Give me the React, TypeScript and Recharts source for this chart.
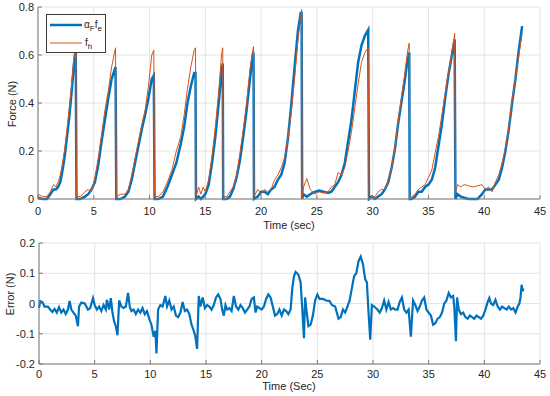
import { LineChart, Line, XAxis, YAxis, CartesianGrid, Legend } from 'recharts';

const BLUE = '#0072bd';
const ORANGE = '#d95319';
const AXIS_COLOR = '#7a7a7a';
const TEXT_COLOR = '#262626';
const GRID_COLOR = '#e4e4e4';
const FONT = 'Arial, "Liberation Sans", Helvetica, sans-serif';

const timeTicks = [0, 5, 10, 15, 20, 25, 30, 35, 40, 45];
const forceTicks = [0, 0.2, 0.4, 0.6, 0.8];
const errorTicks = [-0.2, -0.1, 0, 0.1, 0.2];

// top plot: time (s), scaled device force (alpha_F f_e), human force (f_h)
const forceTime = [
  0, 0.4, 0.8, 1.1, 1.4, 1.6, 1.8, 2.0, 2.2, 2.4, 2.6, 2.8, 3.0, 3.2, 3.38, 3.45,
  3.8, 4.2, 4.5, 4.8, 5.1, 5.4, 5.7, 6.0, 6.3, 6.6, 6.95, 7.02,
  7.4, 7.8, 8.1, 8.4, 8.7, 9.0, 9.3, 9.6, 9.9, 10.2, 10.38, 10.45,
  10.8, 11.2, 11.6, 12.0, 12.4, 12.8, 13.1, 13.4, 13.7, 14.0, 14.12, 14.16,
  14.4, 14.6, 14.8, 15.0, 15.3, 15.6, 15.9, 16.2, 16.45, 16.56, 16.6,
  16.9, 17.2, 17.5, 17.8, 18.1, 18.4, 18.7, 19.0, 19.25, 19.32, 19.36,
  19.7, 20.0, 20.3, 20.6, 20.9, 21.2, 21.5, 21.8, 22.1, 22.4, 22.7, 23.0, 23.3, 23.55, 23.63, 23.68,
  23.8, 24.1, 24.4, 24.8, 25.2, 25.6, 26.0, 26.3, 26.6, 26.9, 27.2, 27.5, 27.8, 28.1, 28.4, 28.7, 29.0, 29.3, 29.6, 29.67,
  29.9, 30.2, 30.5, 30.8, 31.1, 31.4, 31.7, 32.0, 32.3, 32.6, 32.9, 33.15, 33.28, 33.32,
  33.5, 33.8, 34.1, 34.4, 34.7, 35.0, 35.3, 35.6, 35.9, 36.2, 36.5, 36.8, 37.1, 37.35, 37.42,
  37.6, 37.9, 38.2, 38.6, 39.0, 39.4, 39.8, 40.1, 40.4, 40.7, 41.0, 41.3, 41.6, 41.9, 42.2, 42.5, 42.8, 43.1, 43.4,
];
const scaledForce = [
  0.005, 0, 0, 0.02, 0.04, 0.04, 0.05, 0.07, 0.12, 0.18, 0.26, 0.34, 0.44, 0.55, 0.63, 0,
  0, 0.01, 0.02, 0.04, 0.07, 0.14, 0.24, 0.33, 0.42, 0.5, 0.55, 0,
  0, 0.01, 0.03, 0.08, 0.15, 0.22, 0.29, 0.35, 0.42, 0.5, 0.515, 0,
  0, 0.01, 0.05, 0.1, 0.15, 0.23, 0.3, 0.4, 0.47, 0.525, 0.525, 0,
  0.01, 0, 0.01, 0.02, 0.06, 0.15, 0.26, 0.4, 0.53, 0.565, 0,
  0, 0.01, 0.04, 0.09, 0.16, 0.26, 0.37, 0.5, 0.6, 0.61, 0,
  0.01, 0.03, 0.03, 0.02, 0.04, 0.05, 0.08, 0.1, 0.15, 0.25, 0.39, 0.55, 0.7, 0.775, 0.775, 0,
  0.02, 0.01, 0.02, 0.03, 0.035, 0.03, 0.025, 0.03, 0.05, 0.07, 0.1, 0.15, 0.24, 0.33, 0.45, 0.57, 0.64, 0.68, 0.705, 0,
  0.01, 0, 0.01, 0.02, 0.04, 0.07, 0.13, 0.21, 0.32, 0.41, 0.5, 0.59, 0.61, 0,
  0, 0.01, 0.03, 0.03, 0.05, 0.06, 0.08, 0.13, 0.22, 0.31, 0.42, 0.52, 0.6, 0.665, 0,
  0.02, 0.01, 0.005, 0, 0, 0, 0.02, 0.04, 0.04, 0.04, 0.06, 0.08, 0.13, 0.2, 0.29, 0.4, 0.5, 0.62, 0.72,
];
const humanForce = [
  0.02, 0.01, 0.01, 0.03, 0.06, 0.05, 0.07, 0.1, 0.15, 0.21, 0.29, 0.38, 0.47, 0.58, 0.64, 0.01,
  0.01, 0.03, 0.04, 0.03, 0.09, 0.17, 0.27, 0.37, 0.45, 0.55, 0.63, 0.01,
  0.02, 0.02, 0.04, 0.1, 0.17, 0.24, 0.31, 0.37, 0.47, 0.6, 0.62, 0.01,
  0.01, 0.03, 0.07, 0.12, 0.2, 0.26, 0.35, 0.46, 0.55, 0.62, 0.63, 0.01,
  0.05, 0.02, 0.05, 0.03, 0.08, 0.18, 0.3, 0.45, 0.6, 0.63, 0.01,
  0.01, 0.03, 0.05, 0.1, 0.19, 0.29, 0.4, 0.54, 0.62, 0.635, 0.01,
  0.04, 0.02, 0.04, 0.03, 0.04, 0.08, 0.1, 0.13, 0.17, 0.25, 0.36, 0.5, 0.66, 0.76, 0.79, 0,
  0.05, 0.085, 0.04, 0.02, 0.03, 0.025, 0.03, 0.05, 0.06, 0.11, 0.1, 0.13, 0.2, 0.28, 0.38, 0.48, 0.57, 0.61, 0.63, 0,
  0.01, 0.01, 0.03, 0.04, 0.04, 0.08, 0.13, 0.22, 0.33, 0.43, 0.53, 0.62, 0.65, 0,
  0.01, 0.02, 0.04, 0.05, 0.06, 0.09, 0.12, 0.19, 0.26, 0.35, 0.44, 0.53, 0.61, 0.69, 0.02,
  0.06, 0.05, 0.06, 0.055, 0.05, 0.055, 0.06, 0.04, 0.05, 0.03, 0.07, 0.1, 0.15, 0.21, 0.3, 0.41, 0.5, 0.6, 0.69,
];

// bottom plot: force error
const errorTime = [
  0, 0.1, 0.3, 0.5, 0.8, 1.0, 1.2, 1.4, 1.6, 1.8, 2.0, 2.2, 2.4, 2.6, 2.75, 2.9, 3.1, 3.3, 3.5, 3.6,
  3.8, 4.1, 4.4, 4.6, 4.85, 5.0, 5.2, 5.4, 5.6, 5.8, 6.0, 6.1, 6.3, 6.45, 6.6, 6.75, 6.9, 7.05, 7.2,
  7.4, 7.6, 7.8, 8.0, 8.15, 8.3, 8.5, 8.7, 8.9, 9.1, 9.3, 9.5, 9.7, 9.9, 10.1, 10.3, 10.45, 10.55, 10.7,
  10.9, 11.1, 11.35, 11.5, 11.7, 11.9, 12.1, 12.3, 12.5, 12.7, 12.9, 13.1, 13.3, 13.5, 13.7, 13.9, 14.05, 14.2, 14.35,
  14.5, 14.7, 14.9, 15.1, 15.3, 15.5, 15.7, 15.9, 16.1, 16.3, 16.45, 16.6, 16.75, 16.9, 17.1, 17.3, 17.5, 17.7, 17.9,
  18.1, 18.3, 18.5, 18.7, 18.9, 19.1, 19.3, 19.45, 19.6, 19.8, 20.0, 20.2, 20.4, 20.6, 20.8, 21.0, 21.2, 21.4, 21.6,
  21.8, 22.0, 22.2, 22.4, 22.6, 22.75, 22.9, 23.05, 23.3, 23.5, 23.65, 23.8, 23.9, 24.05, 24.2, 24.4, 24.6, 24.8, 25.0,
  25.2, 25.5, 25.8, 26.1, 26.3, 26.6, 26.9, 27.1, 27.3, 27.5, 27.7, 27.9, 28.1, 28.3, 28.5, 28.7, 28.9, 29.1, 29.3,
  29.45, 29.6, 29.75, 29.9, 30.1, 30.4, 30.6, 30.8, 31.0, 31.2, 31.4, 31.6, 31.8, 32.0, 32.2, 32.4, 32.6, 32.8, 33.0,
  33.2, 33.4, 33.6, 33.8, 34.0, 34.2, 34.4, 34.6, 34.8, 35.0, 35.2, 35.4, 35.6, 35.8, 36.0, 36.2, 36.4, 36.6, 36.8,
  37.0, 37.2, 37.3, 37.45, 37.55, 37.7, 37.9, 38.1, 38.3, 38.5, 38.7, 38.9, 39.1, 39.3, 39.5, 39.7, 39.9, 40.1, 40.3,
  40.45, 40.6, 40.8, 41.0, 41.2, 41.4, 41.6, 41.8, 42.0, 42.2, 42.4, 42.6, 42.8, 43.0, 43.15, 43.25, 43.35, 43.45, 43.5,
];
const forceError = [
  -0.015, 0.008, 0.005, -0.01, -0.01, -0.02, -0.028, -0.018, -0.03, -0.012, -0.03, -0.02, -0.035, -0.02, 0.008, -0.02, -0.03, -0.04, -0.075, -0.01,
  0.003, 0, -0.02, -0.015, 0.018, -0.005, -0.02, -0.01, -0.025, -0.005, -0.02, 0.012, -0.02, 0.018, -0.03, -0.06, -0.075, -0.105, 0.01,
  -0.01, -0.015, -0.01, 0.035, -0.01, -0.025, -0.02, -0.035, -0.02, -0.03, -0.015, -0.035, -0.025, -0.05, -0.07, -0.11, -0.09, -0.165, -0.02,
  -0.005, -0.01, 0.025, -0.01, 0.01, -0.02, -0.01, -0.04, -0.045, -0.03, 0.005, -0.025, -0.02, -0.035, -0.07, -0.09, -0.11, -0.15, 0.025,
  -0.01, 0.02, -0.015, -0.005, -0.01, -0.02, -0.005, 0.02, 0.03, 0.015, -0.02, -0.04, -0.005, -0.02, -0.015, -0.025, 0.025, -0.01, -0.02,
  -0.005, -0.015, -0.03, -0.02, -0.01, 0.015, 0.02, -0.03, -0.01, -0.015, -0.02, -0.01, 0.015, 0.03, 0.02, -0.01, -0.04, -0.035, -0.02,
  -0.04, -0.02, -0.025, -0.035, -0.02, 0.05, 0.09, 0.104, 0.095, 0.07, -0.02, -0.115, 0.02, -0.03, -0.075, -0.07, -0.04, 0.01, 0.03,
  0.015, 0.015, 0.01, 0.008, -0.005, -0.01, -0.05, -0.045, -0.02, -0.03, -0.01, 0.01, 0.05, 0.09, 0.1, 0.14, 0.155, 0.13, 0.08,
  0.07, -0.03, -0.12, -0.005, -0.01, -0.02, -0.03, -0.015, 0.01, -0.02, 0.005, -0.02, -0.015, -0.02, -0.02, 0.005, 0.02, -0.02, -0.03,
  -0.02, -0.11, 0.01, -0.005, -0.025, -0.01, 0.01, 0.02, -0.02, -0.03, -0.04, -0.07, -0.065, -0.05, -0.045, -0.03, 0, 0.01, 0.035,
  0.02, 0.025, -0.01, -0.125, 0.02, -0.02, -0.035, -0.03, -0.045, -0.05, -0.04, -0.045, -0.05, -0.04, -0.045, -0.05, -0.04, -0.02, 0.005,
  0.018, 0, -0.005, 0.012, -0.01, -0.02, -0.01, -0.015, -0.02, -0.01, -0.02, -0.015, -0.03, -0.01, 0, 0.02, 0.062, 0.04, 0.05,
];

const forceData = forceTime.map((t, i) => ({ t, fe: scaledForce[i], fh: humanForce[i] }));
const errorData = errorTime.map((t, i) => ({ t, err: forceError[i] }));

const textProps = { fontSize: 11, fill: TEXT_COLOR, fontFamily: FONT };

// MATLAB style ticks: short marks pointing into the plot
const bottomTick = (dy: number) => (p: any) => (
  <g>
    <line x1={p.x} x2={p.x} y1={p.y} y2={p.y - 4} stroke={AXIS_COLOR} />
    <text x={p.x} y={p.y + dy} textAnchor="middle" {...textProps}>
      {p.payload.value}
    </text>
  </g>
);
const topTick = (p: any) => <line x1={p.x} x2={p.x} y1={p.y} y2={p.y + 4} stroke={AXIS_COLOR} />;
const leftTick = (p: any) => (
  <g>
    <line x1={p.x} x2={p.x + 4} y1={p.y} y2={p.y} stroke={AXIS_COLOR} />
    <text x={p.x - 4} y={p.y + 4} textAnchor="end" {...textProps}>
      {p.payload.value}
    </text>
  </g>
);
const rightTick = (p: any) => <line x1={p.x} x2={p.x - 4} y1={p.y} y2={p.y} stroke={AXIS_COLOR} />;

const xTitle = (text: string, y: number) => () => (
  <text x={289} y={y} textAnchor="middle" {...textProps}>
    {text}
  </text>
);
const yTitle = (text: string, x: number, y: number) => () => (
  <text x={x} y={y} transform={`rotate(-90 ${x} ${y})`} textAnchor="middle" {...textProps}>
    {text}
  </text>
);

function LegendBox() {
  return (
    <svg width={60} height={39} style={{ display: 'block' }}>
      <rect x={0.5} y={0.5} width={59} height={38} fill="#fff" stroke="#3a3a3a" />
      <line x1={4} x2={36} y1={11} y2={11} stroke={BLUE} strokeWidth={2.5} />
      <line x1={4} x2={36} y1={29} y2={29} stroke={ORANGE} strokeWidth={1} />
      <text x={38} y={13.5} fontSize={10} fill={TEXT_COLOR} fontFamily={FONT}>
        α<tspan dy={3} fontSize={8}>F</tspan>
        <tspan dy={-3}>f</tspan>
        <tspan dy={3} fontSize={8}>e</tspan>
      </text>
      <text x={39} y={31.5} fontSize={10} fill={TEXT_COLOR} fontFamily={FONT}>
        f<tspan dy={3} fontSize={8}>h</tspan>
      </text>
    </svg>
  );
}

export default function App() {
  return (
    <div style={{ position: 'absolute', left: 0, top: 0, width: 550, height: 396, background: '#fff' }}>
      <LineChart width={550} height={232} data={forceData} margin={{ top: 7, right: 10, bottom: 0, left: 0 }}>
        <CartesianGrid stroke={GRID_COLOR} />
        <XAxis
          dataKey="t"
          type="number"
          domain={[0, 45]}
          ticks={timeTicks}
          interval={0}
          height={33}
          tickSize={0}
          tickMargin={0}
          tickLine={false}
          axisLine={{ stroke: AXIS_COLOR }}
          tick={bottomTick(16)}
          label={xTitle('Time (sec)', 229)}
        />
        <XAxis
          xAxisId="top"
          orientation="top"
          type="number"
          domain={[0, 45]}
          ticks={timeTicks}
          interval={0}
          height={0}
          tickSize={0}
          tickMargin={0}
          tickLine={false}
          axisLine={{ stroke: AXIS_COLOR }}
          tick={topTick}
        />
        <YAxis
          type="number"
          domain={[0, 0.8]}
          ticks={forceTicks}
          interval={0}
          width={38}
          tickSize={0}
          tickMargin={0}
          tickLine={false}
          axisLine={{ stroke: AXIS_COLOR }}
          tick={leftTick}
          label={yTitle('Force (N)', 16, 104)}
        />
        <YAxis
          yAxisId="r"
          orientation="right"
          type="number"
          domain={[0, 0.8]}
          ticks={forceTicks}
          interval={0}
          width={0}
          tickSize={0}
          tickMargin={0}
          tickLine={false}
          axisLine={{ stroke: AXIS_COLOR }}
          tick={rightTick}
        />
        <Line type="linear" dataKey="fe" stroke={BLUE} strokeWidth={2.5} dot={false} isAnimationActive={false} />
        <Line type="linear" dataKey="fh" stroke={ORANGE} strokeWidth={1} dot={false} isAnimationActive={false} />
        <Legend
          verticalAlign="middle"
          align="center"
          content={() => <LegendBox />}
          wrapperStyle={{ position: 'absolute', left: 46, top: 14, width: 60, height: 39 }}
        />
      </LineChart>
      <LineChart width={550} height={164} data={errorData} margin={{ top: 11, right: 10, bottom: 0, left: 0 }}>
        <CartesianGrid stroke={GRID_COLOR} />
        <XAxis
          dataKey="t"
          type="number"
          domain={[0, 45]}
          ticks={timeTicks}
          interval={0}
          height={32}
          tickSize={0}
          tickMargin={0}
          tickLine={false}
          axisLine={{ stroke: AXIS_COLOR }}
          tick={bottomTick(14)}
          label={xTitle('Time (Sec)', 158)}
        />
        <XAxis
          xAxisId="top"
          orientation="top"
          type="number"
          domain={[0, 45]}
          ticks={timeTicks}
          interval={0}
          height={0}
          tickSize={0}
          tickMargin={0}
          tickLine={false}
          axisLine={{ stroke: AXIS_COLOR }}
          tick={topTick}
        />
        <YAxis
          type="number"
          domain={[-0.2, 0.2]}
          ticks={errorTicks}
          interval={0}
          width={39}
          tickSize={0}
          tickMargin={0}
          tickLine={false}
          axisLine={{ stroke: AXIS_COLOR }}
          tick={leftTick}
          label={yTitle('Error (N)', 14, 62)}
        />
        <YAxis
          yAxisId="r"
          orientation="right"
          type="number"
          domain={[-0.2, 0.2]}
          ticks={errorTicks}
          interval={0}
          width={0}
          tickSize={0}
          tickMargin={0}
          tickLine={false}
          axisLine={{ stroke: AXIS_COLOR }}
          tick={rightTick}
        />
        <Line type="linear" dataKey="err" stroke={BLUE} strokeWidth={2.2} dot={false} isAnimationActive={false} />
      </LineChart>
    </div>
  );
}
